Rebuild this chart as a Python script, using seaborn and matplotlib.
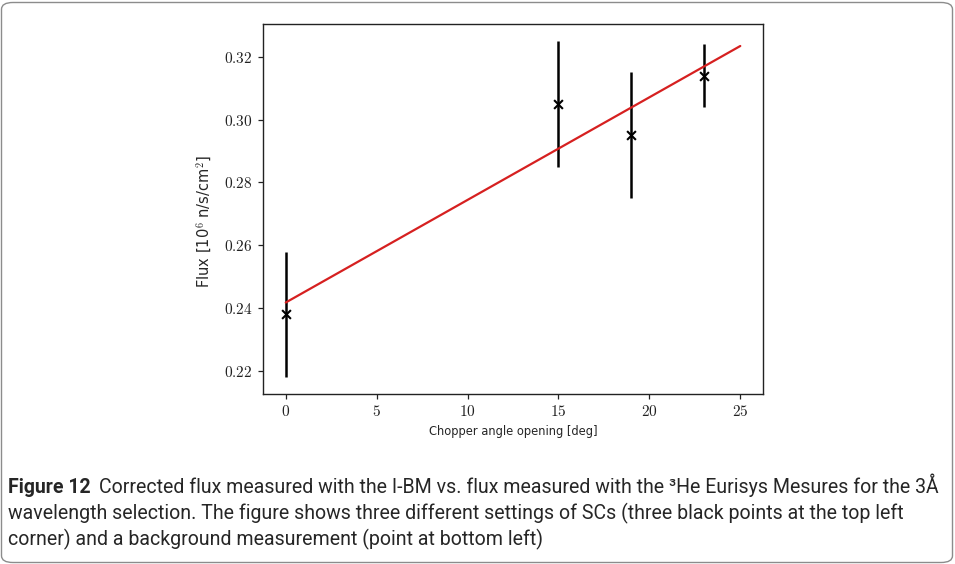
import matplotlib
matplotlib.use("Agg")
import matplotlib.pyplot as plt
import seaborn as sns
import numpy as np
import pandas as pd
from matplotlib.patches import FancyBboxPatch

# ---- data ----
angle = [0, 15, 19, 23]
flux = [0.238, 0.305, 0.295, 0.314]
flux_err = [0.020, 0.020, 0.020, 0.010]
fit_x = [0, 25]
fit_y = [0.2418, 0.3234]
xticks = [0, 5, 10, 15, 20, 25]
yticks = [0.22, 0.24, 0.26, 0.28, 0.30, 0.32]
xlabel = "Chopper angle opening [deg]"
ylabel = r"Flux [10$^6$ n/s/cm$^2$]"
caption_bold = "Figure 12"
caption_line1 = "Corrected flux measured with the I-BM vs. flux measured with the \u00b3He Eurisys Mesures for the 3\u00c5"
caption_line2 = "wavelength selection. The figure shows three different settings of SCs (three black points at the top left"
caption_line3 = "corner) and a background measurement (point at bottom left)"

sns.set_style("ticks")
plt.rcParams['font.family'] = ['DejaVu Sans']
plt.rcParams['mathtext.fontset'] = 'cm'

W, H = 955, 564
fig = plt.figure(figsize=(W/100, H/100), dpi=100)
ax = fig.add_axes([263/W, 1-394/H, 500/W, 370/H])

df_pts = pd.DataFrame({"angle": angle, "flux": flux, "err": flux_err})
df_fit = pd.DataFrame({"x": fit_x, "y": fit_y})

ax.errorbar(df_pts["angle"], df_pts["flux"], yerr=df_pts["err"], fmt="none",
            ecolor="black", elinewidth=1.8, capsize=0, zorder=2)
sns.scatterplot(data=df_pts, x="angle", y="flux", marker="x", color="black",
                s=40, linewidth=1.5, ax=ax, zorder=3)
sns.lineplot(data=df_fit, x="x", y="y", color="#d62020", linewidth=1.6, ax=ax, zorder=4)

ax.set_xlim(-1.25, 26.25)
ax.set_ylim(0.2127, 0.3304)
ax.set_xticks(xticks)
ax.set_xticklabels([f"${t}$" for t in xticks], fontsize=11)
ax.set_yticks(yticks)
ax.set_yticklabels([f"${t:.2f}$" for t in yticks], fontsize=11)
ax.set_xlabel(xlabel, fontsize=8.3, labelpad=4)
ax.set_ylabel(ylabel, fontsize=10.5)
ax.yaxis.set_label_coords(-0.098, 0.465)
for s in ax.spines.values():
    s.set_linewidth(1.0)
    s.set_color("#222222")
ax.tick_params(direction="out", length=3.5, width=0.9, colors="#222222", pad=4)

# border
border = FancyBboxPatch((1.5/W, 1.5/H), 951/W, 560/H,
                        boxstyle="round,pad=0,rounding_size=0.012",
                        transform=fig.transFigure, fill=False,
                        edgecolor="#8c8c8c", linewidth=1.0)
fig.patches.append(border)

# caption (fit font size so line 2 spans the reference width)
cap_font = ['Roboto', 'DejaVu Sans']
probe = fig.text(0, 0, caption_line2, fontsize=12, family=cap_font)
fig.canvas.draw()
wprobe = probe.get_window_extent().width
probe.remove()
fs = 12 * 893 / wprobe

t1 = fig.text(8/W, 1-493/H, caption_bold, fontsize=fs, fontweight="bold",
              family=cap_font, va="baseline", ha="left")
fig.canvas.draw()
bb = t1.get_window_extent()
fig.text((bb.x1 + 8)/W, 1-493/H, caption_line1, fontsize=fs,
         family=cap_font, va="baseline", ha="left")
fig.text(8/W, 1-519/H, caption_line2, fontsize=fs,
         family=cap_font, va="baseline", ha="left")
fig.text(8/W, 1-545/H, caption_line3, fontsize=fs,
         family=cap_font, va="baseline", ha="left")

fig.savefig("out.png", dpi=100)
